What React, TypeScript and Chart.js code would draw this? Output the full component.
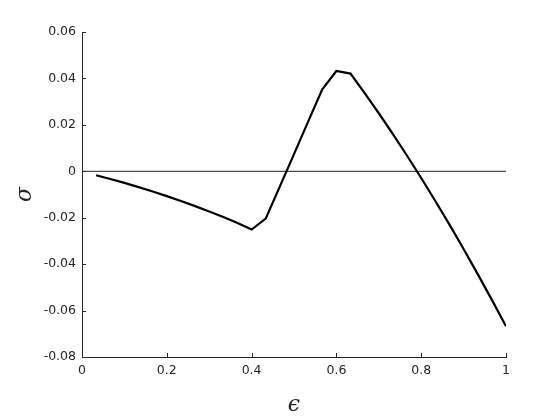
import React, { useEffect, useRef } from "react";
import { Chart, registerables } from "chart.js";

Chart.register(...registerables);

const epsilon = [
  0.0333, 0.0667, 0.1, 0.1333, 0.1667, 0.2, 0.2333, 0.2667, 0.3, 0.3333,
  0.3667, 0.4, 0.4333, 0.4667, 0.5, 0.5333, 0.5667, 0.6, 0.6333, 0.6667,
  0.7, 0.7333, 0.7667, 0.8, 0.8333, 0.8667, 0.9, 0.9333, 0.9667, 1.0,
];
const sigma = [
  -0.0017, -0.0033, -0.005, -0.0068, -0.0087, -0.0107, -0.0128, -0.015, -0.0173, -0.0197,
  -0.0223, -0.0251, -0.0204, -0.0065, 0.0074, 0.0214, 0.0353, 0.0432, 0.0421, 0.0337,
  0.025, 0.016, 0.0067, -0.0029, -0.0128, -0.023, -0.0335, -0.0443, -0.0554, -0.0668,
];
const zeroLineX = [0, 1];
const zeroLineY = [0, 0];
const xTicks = [0, 0.2, 0.4, 0.6, 0.8, 1];
const xTickLabels = ["0", "0.2", "0.4", "0.6", "0.8", "1"];
const yTicks = [0.06, 0.04, 0.02, 0, -0.02, -0.04, -0.06, -0.08];
const yTickLabels = ["0.06", "0.04", "0.02", "0", "-0.02", "-0.04", "-0.06", "-0.08"];

const AXIS_COLOR = "#262626";
const TICK_LEN = 4;

const inwardTicks = {
  id: "inwardTicks",
  afterDatasetsDraw(chart: any) {
    const ctx = chart.ctx;
    const xs = chart.scales.x;
    const ys = chart.scales.y;
    ctx.save();
    ctx.strokeStyle = AXIS_COLOR;
    ctx.lineWidth = 1;
    ctx.beginPath();
    xs.ticks.forEach((t: any) => {
      const px = Math.round(xs.getPixelForValue(t.value)) + 0.5;
      ctx.moveTo(px, ys.bottom);
      ctx.lineTo(px, ys.bottom - TICK_LEN);
    });
    ys.ticks.forEach((t: any) => {
      const py = Math.round(ys.getPixelForValue(t.value)) + 0.5;
      ctx.moveTo(xs.left, py);
      ctx.lineTo(xs.left + TICK_LEN, py);
    });
    ctx.stroke();
    ctx.restore();
  },
};

export default function App() {
  const ref = useRef<HTMLCanvasElement | null>(null);

  useEffect(() => {
    if (!ref.current) return;
    const tickFont = { family: "DejaVu Sans", size: 12.5 };
    const chart = new Chart(ref.current, {
      type: "scatter",
      data: {
        datasets: [
          {
            data: epsilon.map((x, i) => ({ x, y: sigma[i] })),
            showLine: true,
            borderColor: "#000000",
            borderWidth: 2.2,
            pointRadius: 0,
            fill: false,
            tension: 0,
            order: 0,
          },
          {
            data: zeroLineX.map((x, i) => ({ x, y: zeroLineY[i] })),
            showLine: true,
            borderColor: "#4d4d4d",
            borderWidth: 1.2,
            pointRadius: 0,
            fill: false,
            order: 1,
          },
        ],
      },
      options: {
        responsive: false,
        animation: false,
        events: [],
        layout: { padding: { left: 0, right: 54, top: 32, bottom: 0 } },
        plugins: {
          legend: { display: false },
          tooltip: { enabled: false },
        },
        scales: {
          x: {
            type: "linear",
            min: 0,
            max: 1,
            afterBuildTicks: (s: any) => {
              s.ticks = xTicks.map((v) => ({ value: v }));
            },
            afterFit: (s: any) => {
              s.height = 63;
            },
            ticks: {
              color: AXIS_COLOR,
              font: tickFont,
              padding: 6,
              maxRotation: 0,
              autoSkip: false,
              callback: (_v: any, i: number) => xTickLabels[i],
            },
            grid: { display: true, drawOnChartArea: false, drawTicks: false },
            border: { display: true, color: AXIS_COLOR, width: 1 },
            title: {
              display: true,
              text: "ϵ",
              color: AXIS_COLOR,
              font: { family: "DejaVu Serif", size: 22, style: "italic" },
              padding: { top: 0, bottom: 2 },
            },
          },
          y: {
            type: "linear",
            min: -0.08,
            max: 0.06,
            afterBuildTicks: (s: any) => {
              s.ticks = yTicks.map((v) => ({ value: v }));
            },
            afterFit: (s: any) => {
              s.width = 82;
            },
            ticks: {
              color: AXIS_COLOR,
              font: tickFont,
              padding: 6,
              autoSkip: false,
              callback: (_v: any, i: number) => yTickLabels[i],
            },
            grid: { display: true, drawOnChartArea: false, drawTicks: false },
            border: { display: true, color: AXIS_COLOR, width: 1 },
            title: {
              display: true,
              text: "σ",
              color: AXIS_COLOR,
              font: { family: "DejaVu Serif", size: 22, style: "italic" },
              padding: { top: 12, bottom: 0 },
            },
          },
        },
      },
      plugins: [inwardTicks],
    });
    return () => chart.destroy();
  }, []);

  return (
    <div style={{ position: "absolute", left: 0, top: 0, width: 560, height: 420, background: "#fff" }}>
      <canvas ref={ref} width={560} height={420} style={{ display: "block" }} />
    </div>
  );
}
